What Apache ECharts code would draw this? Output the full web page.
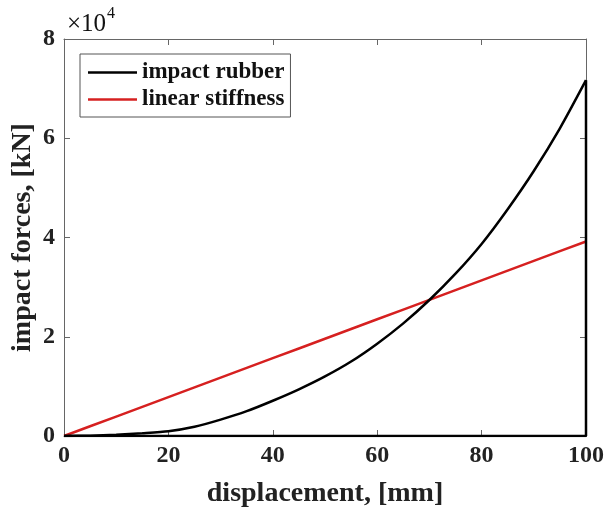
<!DOCTYPE html>
<html>
<head>
<meta charset="utf-8">
<script src="https://cdn.jsdelivr.net/npm/echarts@6/dist/echarts.min.js"></script>
<style>
  html, body { margin: 0; padding: 0; background: #fff; }
  #chart { width: 606px; height: 508px; }
</style>
</head>
<body>
<div id="chart"></div>
<script>
// displacement [mm]
const displacement = [0, 5, 10, 15, 20, 25, 30, 35, 40, 45, 50, 55, 60, 65, 70, 75, 80, 85, 90, 95, 100]
// impact rubber force
const rubberForce = [0, 60, 250, 550, 950, 1850, 3300, 5000, 7100, 9400, 12000, 15000, 18600, 22700, 27400, 32700, 38700, 45700, 53400, 62000, 71700]
// linear stiffness force
const linearForce = [0, 1960, 3920, 5880, 7840, 9800, 11760, 13720, 15680, 17640, 19600, 21560, 23520, 25480, 27440, 29400, 31360, 33320, 35280, 37240, 39200]
// closing segment of the rubber curve (drop at 100 mm, back along zero)
const closeX = [100, 100, 0]
const closeY = [71700, 0, 0]

const font = 'Liberation Serif'

const rubberData = displacement.map((x, i) => [x, rubberForce[i]])
const closeData = closeX.map((x, i) => [x, closeY[i]])
const linearData = displacement.map((x, i) => [x, linearForce[i]])

const myChart = echarts.init(document.getElementById('chart'))

const boxLine = { show: true, onZero: false, lineStyle: { color: '#666', width: 1 } }
const tickIn = { show: true, inside: true, length: 6, lineStyle: { color: '#666' } }
const tickLabel = { fontFamily: font, fontSize: 24, fontWeight: 'bold', color: '#222' }
const nameStyle = { fontFamily: font, fontSize: 28, fontWeight: 'bold', color: '#222' }

myChart.setOption({
  animation: false,
  grid: { left: 64, right: 20, top: 39, bottom: 72, outerBoundsMode: 'none' },
  graphic: [
    {
      type: 'text',
      x: 67,
      y: 37,
      style: { text: '×10', fontFamily: font, fontSize: 25, fill: '#111', verticalAlign: 'bottom' }
    },
    {
      type: 'text',
      x: 107,
      y: 22,
      style: { text: '4', fontFamily: font, fontSize: 16, fill: '#111', verticalAlign: 'bottom' }
    }
  ],
  legend: {
    left: 80,
    top: 54,
    orient: 'vertical',
    icon: 'rect',
    itemWidth: 49,
    itemHeight: 2.5,
    itemGap: 4,
    padding: [7, 6, 6, 8],
    borderColor: '#555',
    borderWidth: 1,
    textStyle: { fontFamily: font, fontSize: 23, fontWeight: 'bold', color: '#111' },
    data: ['impact rubber', 'linear stiffness']
  },
  xAxis: [
    {
      type: 'value',
      min: 0,
      max: 100,
      interval: 20,
      name: 'displacement, [mm]',
      nameLocation: 'middle',
      nameGap: 44,
      nameMoveOverlap: false,
      nameTextStyle: nameStyle,
      axisLine: boxLine,
      axisTick: tickIn,
      splitLine: { show: false },
      axisLabel: Object.assign({ margin: 8 }, tickLabel)
    },
    {
      type: 'value',
      position: 'top',
      min: 0,
      max: 100,
      interval: 20,
      axisLine: boxLine,
      axisTick: tickIn,
      splitLine: { show: false },
      axisLabel: { show: false }
    }
  ],
  yAxis: [
    {
      type: 'value',
      min: 0,
      max: 80000,
      interval: 20000,
      name: 'impact forces, [kN]',
      nameLocation: 'middle',
      nameGap: 27,
      nameMoveOverlap: false,
      nameTextStyle: nameStyle,
      axisLine: boxLine,
      axisTick: tickIn,
      splitLine: { show: false },
      axisLabel: Object.assign({ margin: 9, formatter: v => String(v / 10000) }, tickLabel)
    },
    {
      type: 'value',
      position: 'right',
      min: 0,
      max: 80000,
      interval: 20000,
      axisLine: boxLine,
      axisTick: tickIn,
      splitLine: { show: false },
      axisLabel: { show: false }
    }
  ],
  series: [
    {
      name: 'impact rubber',
      type: 'line',
      smooth: 0.25,
      symbol: 'none',
      data: rubberData,
      lineStyle: { color: '#000', width: 2.5 },
      itemStyle: { color: '#000' },
      z: 3
    },
    {
      name: 'impact rubber',
      type: 'line',
      symbol: 'none',
      data: closeData,
      lineStyle: { color: '#000', width: 2.5 },
      itemStyle: { color: '#000' },
      z: 3
    },
    {
      name: 'linear stiffness',
      type: 'line',
      symbol: 'none',
      data: linearData,
      lineStyle: { color: '#d62020', width: 2.5 },
      itemStyle: { color: '#d62020' },
      z: 2
    }
  ]
})
</script>
</body>
</html>
